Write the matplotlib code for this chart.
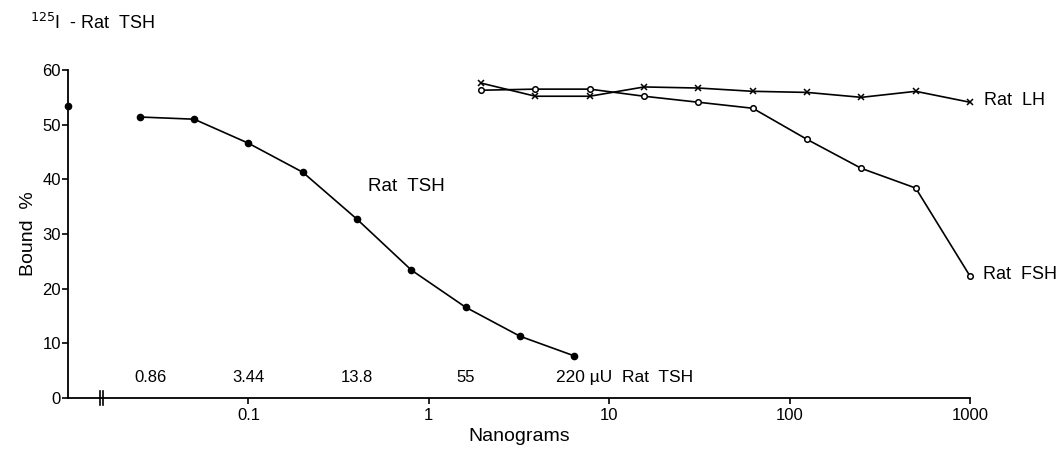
import numpy as np
import matplotlib
matplotlib.use("Agg")
import matplotlib.pyplot as plt
import matplotlib.transforms as mtransforms

plt.rcParams["font.family"] = ["Liberation Sans", "DejaVu Sans"]

# Rat TSH standard curve (nanograms, bound %)
tsh_ng = [0.025, 0.05, 0.1, 0.2, 0.4, 0.8, 1.6, 3.2, 6.4]
tsh_bound = [51.4, 51.0, 46.6, 41.3, 32.7, 23.4, 16.6, 11.3, 7.7]
zero_dose_bound = 53.4

# cross-reaction curves
cross_ng = [1.95, 3.9, 7.8, 15.6, 31.25, 62.5, 125, 250, 500, 1000]
lh_bound = [57.6, 55.2, 55.2, 56.9, 56.7, 56.1, 55.9, 55.0, 56.1, 54.1]
fsh_bound = [56.3, 56.5, 56.5, 55.2, 54.1, 53.0, 47.3, 42.0, 38.4, 22.3]

# microunit labels above the x axis (every second TSH point)
dose_labels = ["0.86", "3.44", "13.8", "55", "220 \u00b5U  Rat  TSH"]

xticks = [0.1, 1, 10, 100, 1000]
xtick_labels = ["0.1", "1", "10", "100", "1000"]
yticks = [0, 10, 20, 30, 40, 50, 60]

fig = plt.figure(figsize=(10.6, 4.49), dpi=100)
ax = fig.add_axes([0.0642, 0.1136, 0.8509, 0.7305])

ax.set_xscale("log")
ax.set_xlim(0.01, 1000)
ax.set_ylim(0, 60)

ax.plot(tsh_ng, tsh_bound, color="black", lw=1.2, marker="o", ms=4.5,
        mfc="black", clip_on=False)
ax.plot([0.01], [zero_dose_bound], color="black", marker="o", ms=4.5,
        mfc="black", clip_on=False)
ax.plot(cross_ng, lh_bound, color="black", lw=1.2, marker="x", ms=4,
        mew=1.1, clip_on=False)
ax.plot(cross_ng, fsh_bound, color="black", lw=1.2, marker="o", ms=4,
        mfc="white", mew=1.1, clip_on=False)

for sp in ["top", "right"]:
    ax.spines[sp].set_visible(False)
for sp in ["left", "bottom"]:
    ax.spines[sp].set_linewidth(1.3)

ax.set_xticks(xticks)
ax.set_xticklabels(xtick_labels)
ax.xaxis.set_minor_locator(matplotlib.ticker.NullLocator())
ax.set_yticks(yticks)
ax.tick_params(axis="both", direction="out", length=4, width=1.2,
               labelsize=12, pad=3)
ax.tick_params(axis="y", pad=1)

ax.set_xlabel("Nanograms", fontsize=14, labelpad=4)
ax.set_ylabel("Bound  %", fontsize=14, labelpad=4)

# axis break marks
trans = mtransforms.blended_transform_factory(ax.transData, ax.transAxes)
for bx in [0.0150, 0.0157]:
    ax.plot([bx, bx], [-0.02, 0.02], color="black", lw=1.2,
            transform=trans, clip_on=False)

# microunit labels
label_x = tsh_ng[::2]
for i, (lx, txt) in enumerate(zip(label_x, dose_labels)):
    if i == len(dose_labels) - 1:
        ax.text(lx * 0.79, 3.8, txt, ha="left", va="center", fontsize=12.5)
    elif i == 0:
        ax.text(lx * 1.15, 3.8, txt, ha="center", va="center", fontsize=12)
    else:
        ax.text(lx, 3.8, txt, ha="center", va="center", fontsize=12)

# curve labels
ax.text(0.46, 38.6, "Rat  TSH", ha="left", va="center", fontsize=13.5)
ax.text(1000 * 1.19, lh_bound[-1] + 0.3, "Rat  LH", ha="left", va="center",
        fontsize=13, clip_on=False)
ax.text(1000 * 1.18, fsh_bound[-1] + 0.3, "Rat  FSH", ha="left", va="center",
        fontsize=13, clip_on=False)

fig.text(0.028, 0.948, r"$^{125}$I  - Rat  TSH", ha="left", va="center",
         fontsize=13)

fig.savefig("out.png", dpi=100)
